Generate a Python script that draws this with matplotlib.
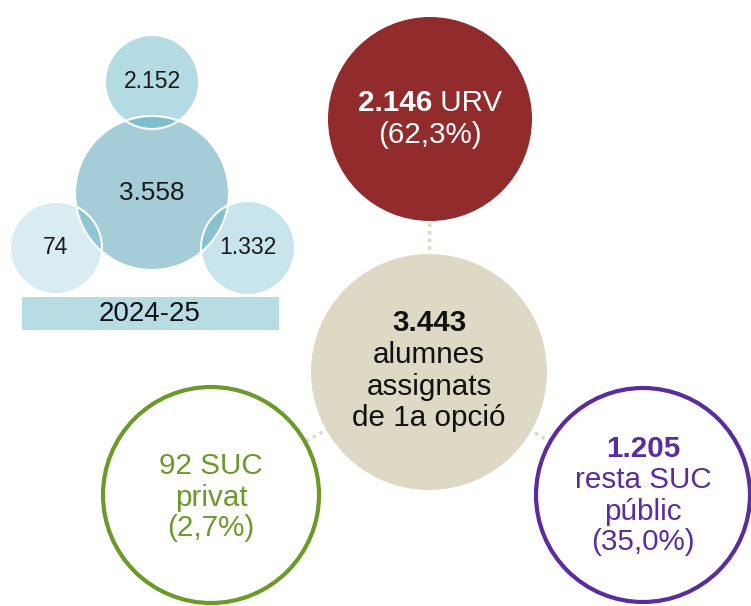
import matplotlib
matplotlib.use("Agg")
import matplotlib.pyplot as plt
from matplotlib.patches import Circle, Rectangle

plt.rcParams["font.family"] = ["Liberation Sans", "DejaVu Sans"]

# data
year = "2024-25"
cluster_values = [3558, 2152, 74, 1332]          # centre, top, left, right
total_assigned = 3443
dest_labels = ["URV", "resta SUC\npúblic", "SUC\nprivat"]
dest_values = [2146, 1205, 92]
dest_pcts = [62.3, 35.0, 2.7]

def fmt(v):
    return f"{v:,}".replace(",", ".")

def pct(p):
    return f"({p:.1f}%)".replace(".", ",")

W, H = 751, 606
fig = plt.figure(figsize=(W / 100, H / 100), dpi=100)
ax = fig.add_axes([0, 0, 1, 1])
ax.set_xlim(0, W)
ax.set_ylim(H, 0)
ax.axis("off")

# --- small cluster (top-left) ---
teal = "#4AA9BD"
cl_pos = [(152, 193, 77), (152, 82, 47), (56, 248, 46), (248, 248, 47)]
cl_style = [("#A4CDD8", 1.0), (teal, 0.41), (teal, 0.21), (teal, 0.30)]
cl_fs = [18.8, 16.5, 16.5, 16.5]
for (x, y, r), (c, a), v, fs in zip(cl_pos, cl_style, cluster_values, cl_fs):
    ax.add_patch(Circle((x, y), r, facecolor=c, alpha=a, edgecolor="none", zorder=2))
    ax.add_patch(Circle((x, y), r, facecolor="none", edgecolor="white", lw=1.5, zorder=3))
    ax.text(x, y, fmt(v), ha="center", va="center", fontsize=fs, color="#1a1a1a", zorder=5)
ax.add_patch(Rectangle((22, 297), 257, 33, facecolor="#B7DCE3", edgecolor="none", zorder=2))
ax.text(150, 314, year, ha="center", va="center", fontsize=20, color="#111111", zorder=5)

# --- main diagram ---
c_main = (429, 372, 118)
c_urv = (430, 119, 102)
c_pub = (643, 495, 107)
c_priv = (211, 495, 108)
dot = "#DCD8C6"
for c in (c_urv, c_pub, c_priv):
    ax.plot([c_main[0], c[0]], [c_main[1], c[1]], color=dot, lw=2.5,
            linestyle=(0, (1, 1.2)), zorder=1)

ax.add_patch(Circle(c_main[:2], c_main[2], facecolor="#DDD9C4", edgecolor="none", zorder=2))
ax.add_patch(Circle(c_urv[:2], c_urv[2], facecolor="#922B2B", edgecolor="none", zorder=2))
ax.add_patch(Circle(c_pub[:2], c_pub[2], facecolor="white", edgecolor="#5B2C9D", lw=3, zorder=2))
ax.add_patch(Circle(c_priv[:2], c_priv[2], facecolor="white", edgecolor="#6C9A2A", lw=3, zorder=2))

fs = 21.3
fig.canvas.draw()
rend = fig.canvas.get_renderer()

# URV: bold number + regular label on one line, centred together
t1 = ax.text(0, 0, fmt(dest_values[0]), fontsize=fs, fontweight="bold")
t2 = ax.text(0, 0, " " + dest_labels[0], fontsize=fs)
w1 = t1.get_window_extent(rend).width
w2 = t2.get_window_extent(rend).width
t1.remove(); t2.remove()
x0 = c_urv[0] - (w1 + w2) / 2
ax.text(x0, 103, fmt(dest_values[0]), fontsize=fs, fontweight="bold", color="white",
        ha="left", va="center", zorder=5)
ax.text(x0 + w1, 103, " " + dest_labels[0], fontsize=fs, color="white",
        ha="left", va="center", zorder=5)
ax.text(c_urv[0], 135, pct(dest_pcts[0]), fontsize=fs, color="white",
        ha="center", va="center", zorder=5)

# centre
ax.text(c_main[0], 323, fmt(total_assigned), fontsize=fs, fontweight="bold",
        color="#111111", ha="center", va="center", zorder=5)
for y, s in zip([355, 387, 418], ["alumnes", "assignats", "de 1a opció"]):
    ax.text(c_main[0], y, s, fontsize=fs, color="#111111", ha="center", va="center", zorder=5)

# resta SUC public
purple = "#5B2C9D"
ax.text(c_pub[0], 449, fmt(dest_values[1]), fontsize=fs, fontweight="bold",
        color=purple, ha="center", va="center", zorder=5)
for y, s in zip([480, 512, 542], dest_labels[1].split("\n") + [pct(dest_pcts[1])]):
    ax.text(c_pub[0], y, s, fontsize=fs, color=purple, ha="center", va="center", zorder=5)

# SUC privat
green = "#6C9A2A"
priv_lines = [f"{dest_values[2]} " + dest_labels[2].split("\n")[0],
              dest_labels[2].split("\n")[1], pct(dest_pcts[2])]
for y, s in zip([466, 498, 528], priv_lines):
    ax.text(c_priv[0], y, s, fontsize=fs, color=green, ha="center", va="center", zorder=5)

fig.savefig("out.png", dpi=100)
